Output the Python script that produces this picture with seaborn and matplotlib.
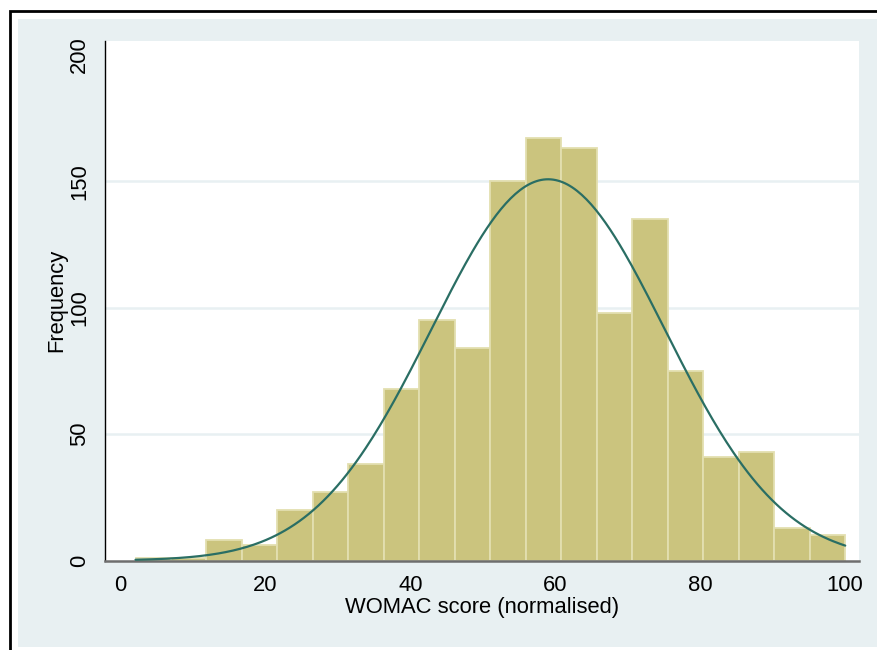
import numpy as np
import pandas as pd
import matplotlib
matplotlib.use("Agg")
import matplotlib.pyplot as plt
import seaborn as sns
from matplotlib.patches import Rectangle

# ==========================
# Data
# ==========================

bin_counts = [1, 1, 8, 6, 20, 27, 38, 68, 95, 84,
              150, 167, 163, 98, 135, 75, 41, 43, 13, 10]

score_min = 2.08
score_max = 100.0

mean_score = 59.0
sd_score = 16.1

x_ticks = [0, 20, 40, 60, 80, 100]
y_ticks = [0, 50, 100, 150, 200]

# ==========================
# Bins
# ==========================

n_bins = len(bin_counts)
bin_edges = np.linspace(score_min, score_max, n_bins + 1)
bin_width = bin_edges[1] - bin_edges[0]

df = pd.DataFrame({
    "mid": (bin_edges[:-1] + bin_edges[1:]) / 2,
    "count": bin_counts
})

# ==========================
# Figure
# ==========================

sns.set_style("white")
plt.rcParams["font.family"] = ["Liberation Sans", "DejaVu Sans"]
plt.rcParams["text.color"] = "black"
plt.rcParams["axes.labelcolor"] = "black"
plt.rcParams["xtick.color"] = "black"
plt.rcParams["ytick.color"] = "black"

fig = plt.figure(figsize=(8.77, 6.5), dpi=100)
fig.patch.set_facecolor("white")

# outer frame and shaded background
fig.patches.append(Rectangle(
    (10 / 877, -0.1), 1.2, (650 - 10.5) / 650 + 0.1,
    transform=fig.transFigure, facecolor="none",
    edgecolor="black", linewidth=2, zorder=-5
))
fig.patches.append(Rectangle(
    (18 / 877, 3 / 650), 1.0, (647 - 19) / 650,
    transform=fig.transFigure, facecolor="#e8f0f2",
    edgecolor="none", zorder=-5
))

ax = fig.add_axes([
    104.5 / 877,
    (650 - 560.5) / 650,
    (859 - 104.5) / 877,
    (560.5 - 41) / 650
])
ax.set_facecolor("white")

# ==========================
# Histogram
# ==========================

sns.histplot(
    data=df,
    x="mid",
    weights="count",
    bins=bin_edges.tolist(),
    color="#cbc47e",
    edgecolor="#e3dfb0",
    linewidth=1.3,
    alpha=1,
    ax=ax,
    zorder=2
)

# ==========================
# Normal curve
# ==========================

curve_x = np.linspace(score_min, score_max, 300)
curve_y = (
    sum(bin_counts) * bin_width
    / (sd_score * np.sqrt(2 * np.pi))
    * np.exp(-0.5 * ((curve_x - mean_score) / sd_score) ** 2)
)

sns.lineplot(
    x=curve_x,
    y=curve_y,
    color="#2a6e64",
    linewidth=1.6,
    ax=ax,
    zorder=3
)

# ==========================
# Axes styling
# ==========================

ax.set_xlim(-2.2, 101.9)
ax.set_ylim(0, 205.5)

ax.set_xticks(x_ticks)
ax.set_yticks(y_ticks)
ax.set_xticklabels([str(t) for t in x_ticks], fontsize=15.8)
ax.set_yticklabels([str(t) for t in y_ticks], fontsize=15.8,
                   rotation=90, va="center")

for t in y_ticks[1:-1]:
    ax.axhline(t, color="#e8f0f2", linewidth=1.8, zorder=1)

ax.tick_params(axis="both", direction="out", length=6.5,
               width=1, color="black", pad=4)

for side in ["top", "right"]:
    ax.spines[side].set_visible(False)

ax.spines["left"].set_color("black")
ax.spines["left"].set_linewidth(1)
ax.spines["bottom"].set_color("#6e6e6e")
ax.spines["bottom"].set_linewidth(1.8)

ax.set_xlabel("WOMAC score (normalised)", fontsize=15.8, labelpad=1)
ax.set_ylabel("Frequency", fontsize=15.8, labelpad=1)

plt.savefig("out.png", dpi=100)
plt.close()
